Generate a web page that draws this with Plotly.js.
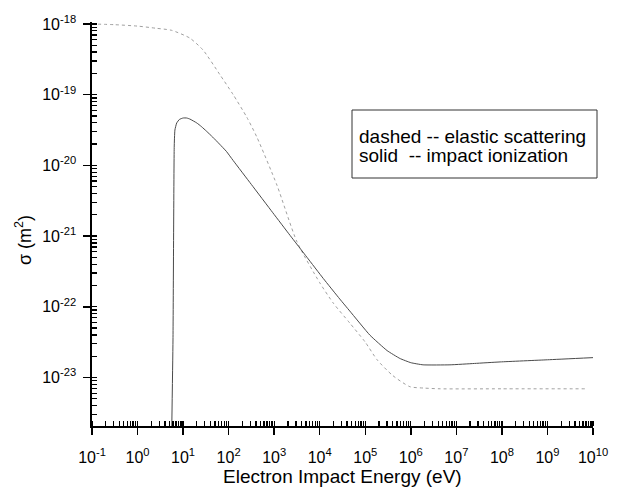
<!DOCTYPE html>
<html>
<head>
<meta charset="utf-8">
<script src="https://cdn.plot.ly/plotly-3.0.1.min.js"></script>
<style>html,body{margin:0;padding:0;background:#fff;}#chart{width:620px;height:489px;}</style>
</head>
<body>
<div id="chart"></div>
<script>
// Elastic scattering (dashed)
const elasticEnergy = [0.1, 0.316, 1, 2.51, 5.62, 14.1, 27.5, 64.6, 126, 251, 417, 1150, 3160, 1.0e4, 2.0e4, 4.57e4, 1.0e5, 1.82e5, 3.98e5, 9.55e5, 2.0e6, 4.37e6, 1e8, 6.6e9];
const elasticSigma  = [1.0e-18, 9.77e-19, 9.33e-19, 8.71e-19, 8.13e-19, 6.31e-19, 4.27e-19, 1.91e-19, 1.0e-19, 4.79e-20, 2.51e-20, 5.25e-21, 8.3e-22, 2.19e-22, 1.12e-22, 5.89e-23, 3.16e-23, 1.78e-23, 1.07e-23, 7.41e-24, 7.08e-24, 6.92e-24, 6.92e-24, 6.92e-24];

// Impact ionization (solid)
const ionEnergy = [5.62, 6.0, 6.38, 6.61, 7.24, 8.32, 10, 12, 14.1, 20, 25.1, 33.1, 44.7, 63.1, 89.1, 126, 316, 933, 2240, 5250, 1.2e4, 2.75e4, 4.57e4, 1.26e5, 3.02e5, 5.75e5, 1e6, 1.86e6, 7.24e6, 2.51e7, 9.12e7, 1e9, 1e10];
const ionSigma  = [1.6e-24, 3.39e-23, 1.78e-20, 3.16e-20, 3.98e-20, 4.47e-20, 4.68e-20, 4.68e-20, 4.52e-20, 3.98e-20, 3.55e-20, 3.02e-20, 2.51e-20, 2.0e-20, 1.58e-20, 1.17e-20, 5.37e-21, 2.14e-21, 1.02e-21, 5.01e-22, 2.51e-22, 1.29e-22, 8.71e-23, 3.98e-23, 2.40e-23, 1.86e-23, 1.62e-23, 1.51e-23, 1.51e-23, 1.58e-23, 1.66e-23, 1.78e-23, 1.91e-23];

// Tick labels
const xTickVals = [0.1, 1, 10, 1e2, 1e3, 1e4, 1e5, 1e6, 1e7, 1e8, 1e9, 1e10];
const xTickText = ['10<sup>-1</sup>','10<sup>0</sup>','10<sup>1</sup>','10<sup>2</sup>','10<sup>3</sup>','10<sup>4</sup>','10<sup>5</sup>','10<sup>6</sup>','10<sup>7</sup>','10<sup>8</sup>','10<sup>9</sup>','10<sup>10</sup>'];
const yTickVals = [1e-23, 1e-22, 1e-21, 1e-20, 1e-19, 1e-18];
const yTickText = ['10<sup>-23</sup>','10<sup>-22</sup>','10<sup>-21</sup>','10<sup>-20</sup>','10<sup>-19</sup>','10<sup>-18</sup>'];

const legendLines = ['dashed -- elastic scattering', 'solid  -- impact ionization'];
const xTitle = 'Electron Impact Energy (eV)';
const yTitle = 'σ (m<sup>2</sup>)';

const FONT = 'Liberation Sans, Arial, sans-serif';
const L = 92, R = 27, T = 22, B = 63, W = 620, H = 489;
const pw = W - L - R, ph = H - T - B;
const px = v => (v - L) / pw;
const py = v => (H - B - v) / ph;

const traces = [
  {x: elasticEnergy, y: elasticSigma, type: 'scatter', mode: 'lines',
   line: {color: '#a0a0a0', width: 1, dash: 'dot', shape: 'spline', smoothing: 0.6}, hoverinfo: 'skip'},
  {x: ionEnergy, y: ionSigma, type: 'scatter', mode: 'lines',
   line: {color: '#4a4a4a', width: 1, shape: 'spline', smoothing: 0.4}, hoverinfo: 'skip'}
];

const axisCommon = {
  type: 'log', showgrid: false, zeroline: false, showline: true,
  linecolor: '#000', linewidth: 1.6, ticks: 'outside', ticklen: 7, tickwidth: 1.5,
  tickcolor: '#000', tickmode: 'array',
  tickfont: {family: FONT, size: 16, color: '#000'},
  minor: {ticks: 'inside', ticklen: 5, tickwidth: 1.3, tickcolor: '#000', dtick: 'D1'}
};

const layout = {
  width: W, height: H,
  margin: {l: L, r: R, t: T, b: B, pad: 0},
  paper_bgcolor: '#fff', plot_bgcolor: '#fff',
  showlegend: false,
  xaxis: Object.assign({}, axisCommon, {range: [-1, 10], tickvals: xTickVals, ticktext: xTickText, ticklabelstandoff: 9}),
  yaxis: Object.assign({}, axisCommon, {range: [-23.686, -17.972], tickvals: yTickVals, ticktext: yTickText, ticklabelstandoff: 4}),
  shapes: [
    {type: 'rect', xref: 'paper', yref: 'paper', x0: px(352), x1: px(597), y0: py(178), y1: py(110),
     line: {color: '#333', width: 1}, fillcolor: 'rgba(0,0,0,0)'}
  ],
  annotations: [
    {xref: 'paper', yref: 'paper', x: px(357), y: py(136), xanchor: 'left', yanchor: 'middle',
     text: legendLines[0], showarrow: false, font: {family: FONT, size: 19, color: '#000'}},
    {xref: 'paper', yref: 'paper', x: px(357), y: py(156), xanchor: 'left', yanchor: 'middle',
     text: legendLines[1], showarrow: false, font: {family: FONT, size: 19, color: '#000'}},
    {xref: 'paper', yref: 'paper', x: px(342), y: py(476), xanchor: 'center', yanchor: 'middle',
     text: xTitle, showarrow: false, font: {family: FONT, size: 19, color: '#000'}},
    {xref: 'paper', yref: 'paper', x: px(23), y: py(240), xanchor: 'center', yanchor: 'middle',
     textangle: -90, text: yTitle, showarrow: false, font: {family: FONT, size: 18, color: '#000'}}
  ]
};

Plotly.newPlot('chart', traces, layout, {staticPlot: true, displayModeBar: false});
</script>
</body>
</html>
